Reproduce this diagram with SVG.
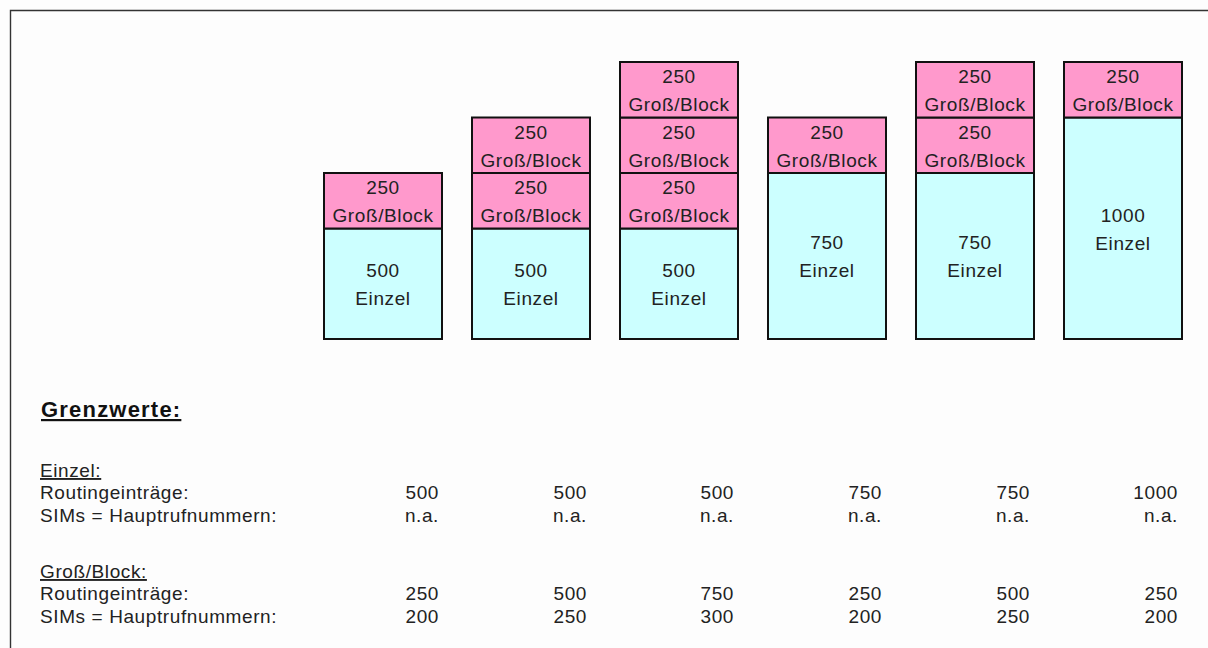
<svg xmlns="http://www.w3.org/2000/svg" width="1208" height="648" viewBox="0 0 1208 648">
<style>
.bg{fill:#fdfdfd}
.frame{fill:none;stroke:#333;stroke-width:1.4}
.pink{fill:#ff99cc;stroke:#111;stroke-width:2}
.cyan{fill:#ccffff;stroke:#111;stroke-width:2}
text{font-family:"Liberation Sans",Arial,sans-serif;font-size:19px;fill:#222;letter-spacing:0.6px}
.c{text-anchor:middle}
.r{text-anchor:end}
.h{font-size:22px;font-weight:bold;letter-spacing:1.2px;fill:#111;text-decoration:underline}
.u{text-decoration:underline}
</style>
<rect class="bg" x="0" y="0" width="1208" height="648"/>
<path class="frame" d="M10.5,648 V10.5 H1208"/>

<g id="col1">
<rect class="cyan" x="324" y="228.5" width="118" height="110.5"/>
<rect class="pink" x="324" y="173" width="118" height="55.5"/>
<text class="c" x="383" y="194">250</text><text class="c" x="383" y="222">Groß/Block</text>
<text class="c" x="383" y="277">500</text><text class="c" x="383" y="305">Einzel</text>
</g>

<g id="col2">
<rect class="cyan" x="472" y="228.5" width="118" height="110.5"/>
<rect class="pink" x="472" y="173" width="118" height="55.5"/>
<rect class="pink" x="472" y="117.5" width="118" height="55.5"/>
<text class="c" x="531" y="138.5">250</text><text class="c" x="531" y="166.5">Groß/Block</text>
<text class="c" x="531" y="194">250</text><text class="c" x="531" y="222">Groß/Block</text>
<text class="c" x="531" y="277">500</text><text class="c" x="531" y="305">Einzel</text>
</g>

<g id="col3">
<rect class="cyan" x="620" y="228.5" width="118" height="110.5"/>
<rect class="pink" x="620" y="173" width="118" height="55.5"/>
<rect class="pink" x="620" y="117.5" width="118" height="55.5"/>
<rect class="pink" x="620" y="62" width="118" height="55.5"/>
<text class="c" x="679" y="83">250</text><text class="c" x="679" y="111">Groß/Block</text>
<text class="c" x="679" y="138.5">250</text><text class="c" x="679" y="166.5">Groß/Block</text>
<text class="c" x="679" y="194">250</text><text class="c" x="679" y="222">Groß/Block</text>
<text class="c" x="679" y="277">500</text><text class="c" x="679" y="305">Einzel</text>
</g>

<g id="col4">
<rect class="cyan" x="768" y="173" width="118" height="166"/>
<rect class="pink" x="768" y="117.5" width="118" height="55.5"/>
<text class="c" x="827" y="138.5">250</text><text class="c" x="827" y="166.5">Groß/Block</text>
<text class="c" x="827" y="249">750</text><text class="c" x="827" y="277">Einzel</text>
</g>

<g id="col5">
<rect class="cyan" x="916" y="173" width="118" height="166"/>
<rect class="pink" x="916" y="117.5" width="118" height="55.5"/>
<rect class="pink" x="916" y="62" width="118" height="55.5"/>
<text class="c" x="975" y="83">250</text><text class="c" x="975" y="111">Groß/Block</text>
<text class="c" x="975" y="138.5">250</text><text class="c" x="975" y="166.5">Groß/Block</text>
<text class="c" x="975" y="249">750</text><text class="c" x="975" y="277">Einzel</text>
</g>

<g id="col6">
<rect class="cyan" x="1064" y="117.5" width="118" height="221.5"/>
<rect class="pink" x="1064" y="62" width="118" height="55.5"/>
<text class="c" x="1123" y="83">250</text><text class="c" x="1123" y="111">Groß/Block</text>
<text class="c" x="1123" y="222">1000</text><text class="c" x="1123" y="250">Einzel</text>
</g>

<g id="connectors"></g>

<g id="table">
<text class="h" x="41" y="417">Grenzwerte:</text>
<text class="u" x="40" y="477">Einzel:</text>
<text x="40" y="499">Routingeinträge:</text>
<text x="40" y="522">SIMs = Hauptrufnummern:</text>
<text class="u" x="40" y="578">Groß/Block:</text>
<text x="40" y="600">Routingeinträge:</text>
<text x="40" y="623">SIMs = Hauptrufnummern:</text>

<text class="r" x="439" y="499">500</text>
<text class="r" x="587" y="499">500</text>
<text class="r" x="734" y="499">500</text>
<text class="r" x="882" y="499">750</text>
<text class="r" x="1030" y="499">750</text>
<text class="r" x="1178" y="499">1000</text>

<text class="r" x="439" y="522">n.a.</text>
<text class="r" x="587" y="522">n.a.</text>
<text class="r" x="734" y="522">n.a.</text>
<text class="r" x="882" y="522">n.a.</text>
<text class="r" x="1030" y="522">n.a.</text>
<text class="r" x="1178" y="522">n.a.</text>

<text class="r" x="439" y="600">250</text>
<text class="r" x="587" y="600">500</text>
<text class="r" x="734" y="600">750</text>
<text class="r" x="882" y="600">250</text>
<text class="r" x="1030" y="600">500</text>
<text class="r" x="1178" y="600">250</text>

<text class="r" x="439" y="623">200</text>
<text class="r" x="587" y="623">250</text>
<text class="r" x="734" y="623">300</text>
<text class="r" x="882" y="623">200</text>
<text class="r" x="1030" y="623">250</text>
<text class="r" x="1178" y="623">200</text>
</g>
</svg>
